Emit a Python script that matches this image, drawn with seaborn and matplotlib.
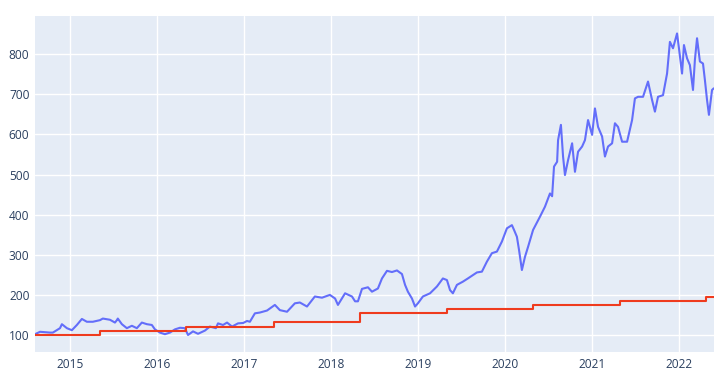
import pandas as pd
import matplotlib.pyplot as plt
import matplotlib.dates as mdates
import seaborn as sns

# portfolio value
price_dates = [
    "2014-08-06", "2014-08-27", "2014-10-08", "2014-10-20", "2014-11-19", "2014-11-27",
    "2014-12-18", "2015-01-08", "2015-01-29", "2015-02-19", "2015-03-12", "2015-04-06",
    "2015-05-06", "2015-05-18", "2015-06-17", "2015-07-08", "2015-07-16", "2015-07-20",
    "2015-08-06", "2015-08-27", "2015-09-17", "2015-10-08", "2015-10-29", "2015-11-19",
    "2015-12-10", "2015-12-23", "2016-01-13", "2016-02-03", "2016-02-24", "2016-03-16",
    "2016-04-06", "2016-04-27", "2016-05-10", "2016-05-31", "2016-06-21", "2016-07-20",
    "2016-08-10", "2016-09-04", "2016-09-13", "2016-10-04", "2016-10-21", "2016-11-11",
    "2016-12-06", "2016-12-28", "2017-01-13", "2017-01-25", "2017-02-15", "2017-03-08",
    "2017-04-07", "2017-05-10", "2017-05-31", "2017-06-30", "2017-08-02", "2017-08-23",
    "2017-09-22", "2017-10-25", "2017-11-24", "2017-12-27", "2018-01-18", "2018-01-30",
    "2018-03-01", "2018-03-30", "2018-04-12", "2018-04-24", "2018-05-11", "2018-06-05",
    "2018-06-22", "2018-07-17", "2018-08-03", "2018-08-24", "2018-09-14", "2018-10-05",
    "2018-10-26", "2018-11-08", "2018-11-20", "2018-12-07", "2018-12-20", "2019-01-01",
    "2019-01-22", "2019-02-21", "2019-03-22", "2019-04-16", "2019-05-03", "2019-05-16",
    "2019-05-28", "2019-06-14", "2019-07-09", "2019-07-30", "2019-09-06", "2019-09-27",
    "2019-10-18", "2019-11-08", "2019-11-29", "2019-12-20", "2020-01-10", "2020-01-31",
    "2020-02-09", "2020-02-21", "2020-03-01", "2020-03-13", "2020-03-26", "2020-04-08",
    "2020-04-29", "2020-05-28", "2020-06-18", "2020-07-09", "2020-07-18", "2020-07-26",
    "2020-08-08", "2020-08-12", "2020-08-24", "2020-09-02", "2020-09-10", "2020-09-23",
    "2020-10-10", "2020-10-22", "2020-11-04", "2020-11-21", "2020-12-03", "2020-12-16",
    "2021-01-02", "2021-01-14", "2021-01-27", "2021-02-13", "2021-02-25", "2021-03-10",
    "2021-03-27", "2021-04-08", "2021-04-21", "2021-05-08", "2021-05-29", "2021-06-19",
    "2021-07-01", "2021-07-14", "2021-08-04", "2021-08-25", "2021-09-11", "2021-09-23",
    "2021-10-06", "2021-10-27", "2021-11-13", "2021-11-25", "2021-12-08", "2021-12-25",
    "2022-01-02", "2022-01-15", "2022-01-23", "2022-02-05", "2022-02-17", "2022-03-02",
    "2022-03-10", "2022-03-19", "2022-03-31", "2022-04-13", "2022-04-21", "2022-04-30",
    "2022-05-08", "2022-05-21", "2022-05-28",
]
price_values = [
    102, 108, 106, 106, 117, 127,
    117, 112, 125, 140, 133, 133,
    137, 141, 138, 131, 137, 141,
    127, 117, 123, 117, 131, 127,
    125, 114, 106, 102, 106, 114,
    118, 117, 100, 109, 103, 111,
    121, 117, 129, 125, 131, 121,
    129, 130, 135, 133, 154, 156,
    161, 175, 162, 158, 179, 181,
    171, 196, 193, 200, 191, 175,
    204, 196, 184, 184, 215, 219,
    208, 216, 241, 260, 257, 261,
    252, 225, 208, 191, 171, 179,
    196, 204, 221, 241, 237, 212,
    204, 225, 233, 241, 256, 258,
    283, 304, 308, 333, 366, 374,
    362, 345, 312, 262, 295, 320,
    362, 395, 420, 453, 446, 520,
    532, 586, 624, 545, 499, 536,
    578, 507, 557, 570, 586, 636,
    599, 665, 619, 595, 545, 570,
    578, 628, 619, 582, 582, 636,
    690, 694, 694, 732, 686, 657,
    694, 698, 752, 831, 815, 852,
    815, 752, 823, 790, 773, 711,
    786, 840, 782, 777, 736, 686,
    649, 711, 715,
]

# fixed-rate benchmark, steps each spring
bench_dates = ["2014-08-06", "2015-05-05", "2016-05-01", "2017-05-07", "2018-05-04",
               "2019-05-05", "2020-04-30", "2021-04-29", "2022-04-27", "2022-05-28"]
bench_values = [100, 110, 121, 133, 155, 164, 175, 186, 196, 196]

price_df = pd.DataFrame({"date": pd.to_datetime(price_dates), "value": price_values})
bench_df = pd.DataFrame({"date": pd.to_datetime(bench_dates), "value": bench_values})

sns.set_theme(style="darkgrid", rc={
    "axes.facecolor": "#E5ECF6",
    "grid.color": "white",
    "grid.linewidth": 1.0,
    "axes.edgecolor": "#E5ECF6",
})
plt.rcParams["font.family"] = ["Open Sans", "DejaVu Sans"]

fig = plt.figure(figsize=(7.2, 3.77), dpi=100)
ax = fig.add_axes([35 / 720, 1 - 352 / 377, (713.7 - 35) / 720, (352 - 16) / 377])

sns.lineplot(data=price_df, x="date", y="value", ax=ax, color="#636EFA", linewidth=1.5)
sns.lineplot(data=bench_df, x="date", y="value", ax=ax, color="#EF3B1E", linewidth=1.5,
             drawstyle="steps-post")

ax.set_xlim(pd.Timestamp("2014-08-06"), pd.Timestamp("2022-05-28"))
ax.set_ylim(57.6, 895.5)
ax.set_yticks(range(100, 801, 100))
ax.xaxis.set_major_locator(mdates.YearLocator())
ax.xaxis.set_major_formatter(mdates.DateFormatter("%Y"))
ax.set_xlabel("")
ax.set_ylabel("")
ax.tick_params(axis="both", length=0, labelsize=8.6, labelcolor="#2a3f5f", pad=4)
for s in ax.spines.values():
    s.set_visible(False)

fig.savefig("out.png", dpi=100)
plt.close(fig)
